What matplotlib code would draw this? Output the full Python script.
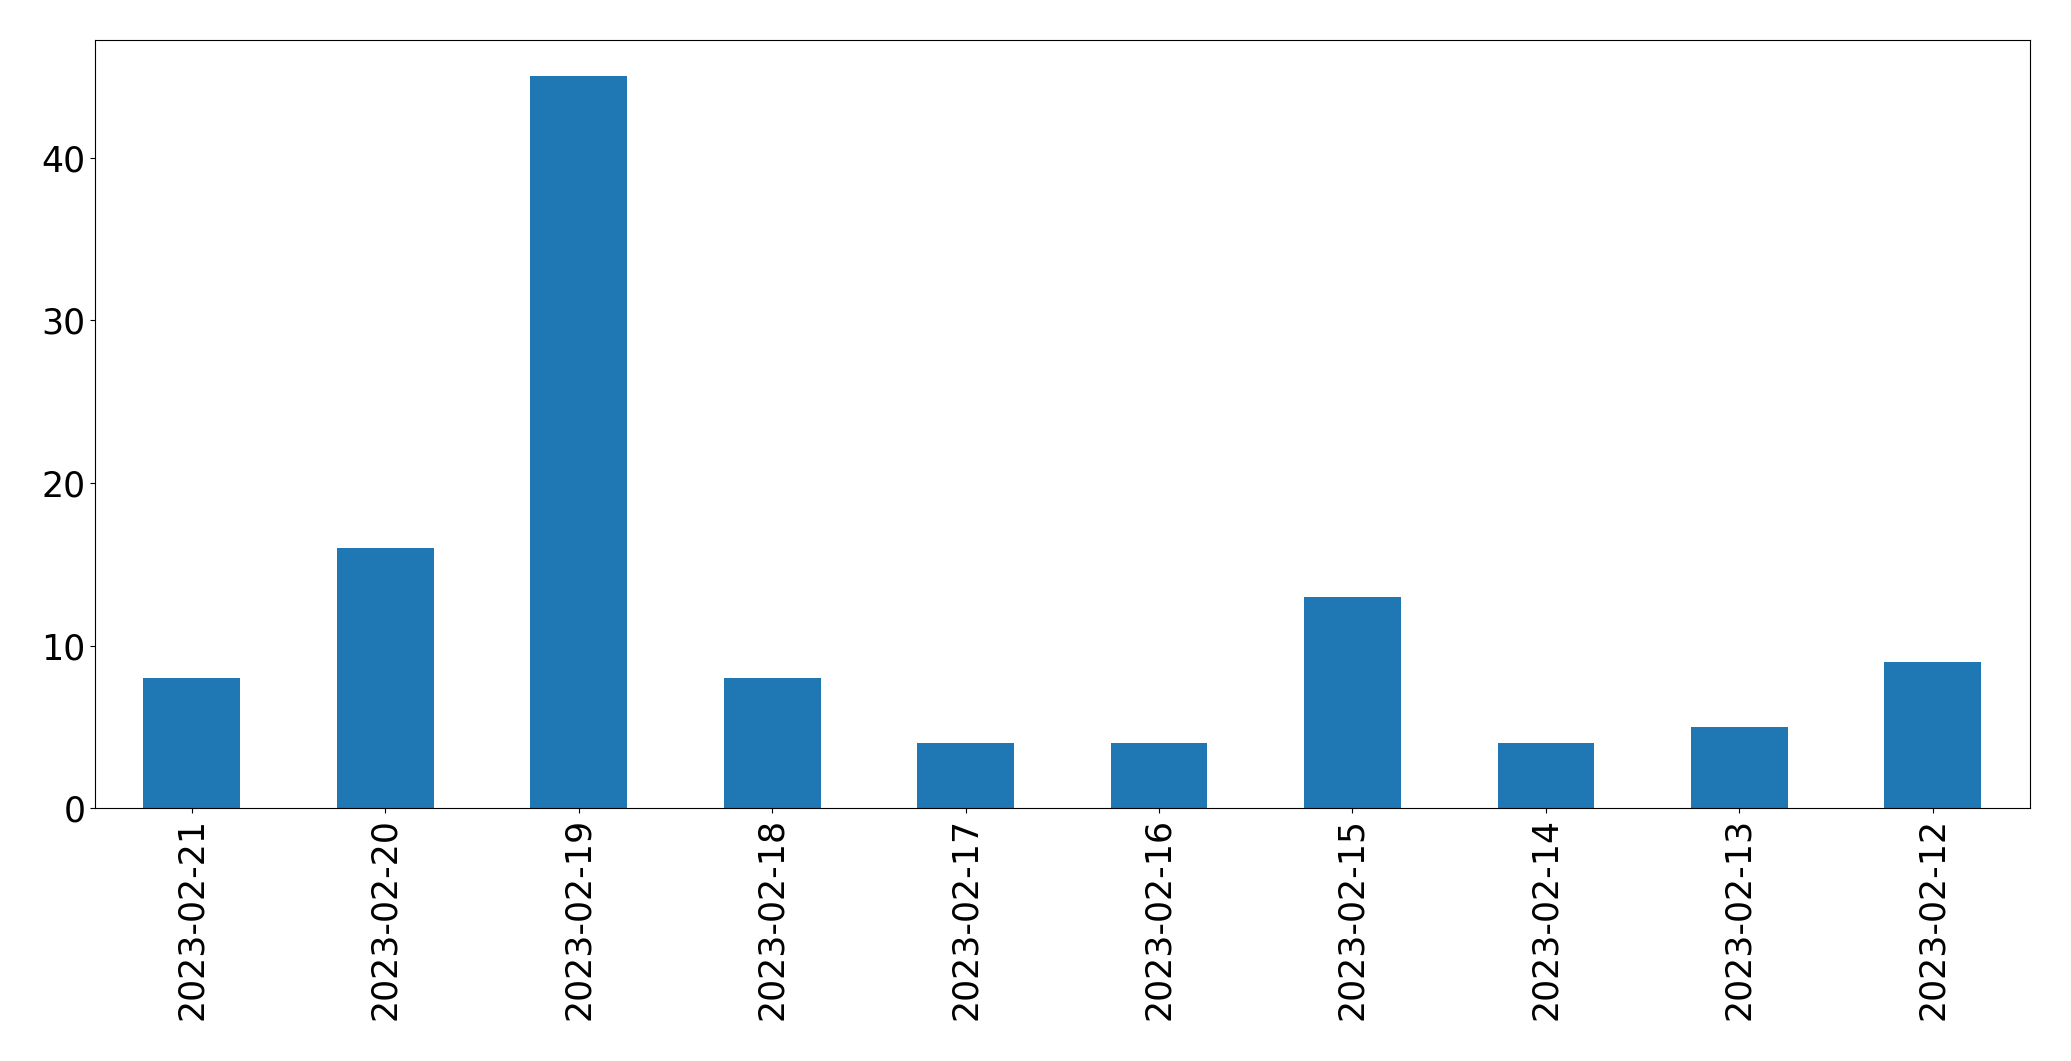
import matplotlib
matplotlib.use("Agg")
import matplotlib.pyplot as plt

dates = ["2023-02-21", "2023-02-20", "2023-02-19", "2023-02-18", "2023-02-17",
         "2023-02-16", "2023-02-15", "2023-02-14", "2023-02-13", "2023-02-12"]
counts = [8, 16, 45, 8, 4, 4, 13, 4, 5, 9]

fig = plt.figure(figsize=(20.71, 10.61), dpi=100)
ax = fig.add_axes([0.0459, 0.238, 0.9341, 0.7247])
x = range(len(dates))
ax.bar(x, counts, width=0.5, color="#1f77b4")
ax.set_xlim(-0.5, len(dates) - 0.5)
ax.set_ylim(0, max(counts) * 1.05)
ax.set_xticks(list(x))
ax.set_xticklabels(dates, rotation=90)
ax.tick_params(axis="both", labelsize=25)
fig.savefig("out.png", dpi=100)
